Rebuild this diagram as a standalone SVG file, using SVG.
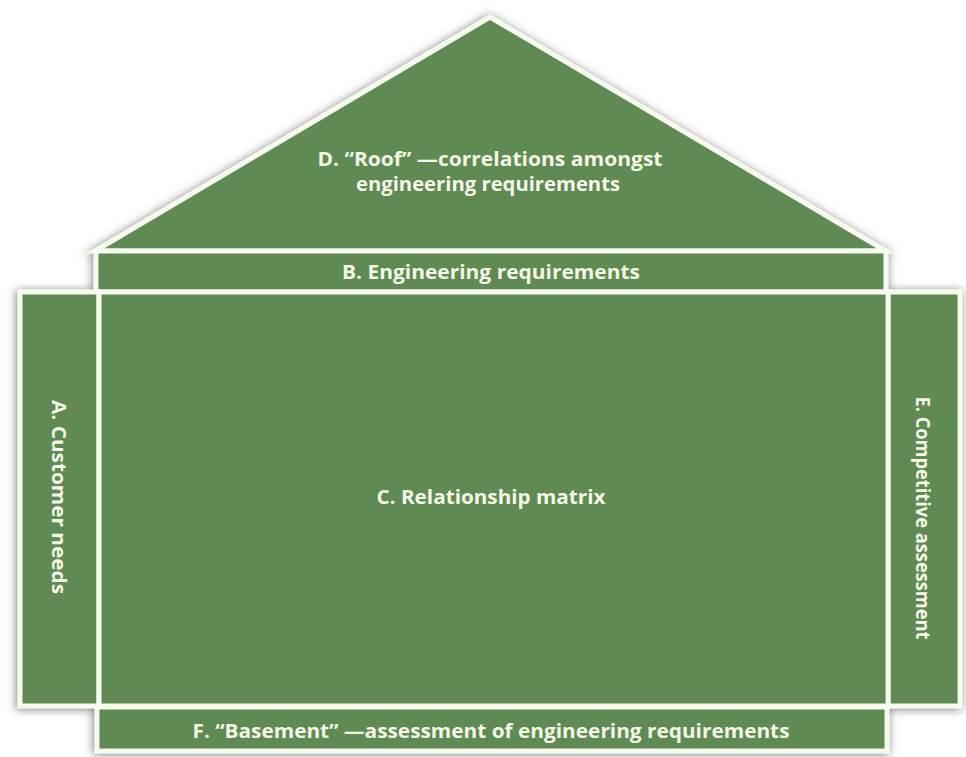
<svg xmlns="http://www.w3.org/2000/svg" width="966" height="757" viewBox="0 0 966 757">
  <defs>
    <filter id="shadow" x="-10%" y="-10%" width="120%" height="120%">
      <feGaussianBlur in="SourceAlpha" stdDeviation="5" result="b"/>
      <feOffset in="b" dx="-1" dy="1" result="o"/>
      <feFlood flood-color="#555" flood-opacity="0.75"/>
      <feComposite in2="o" operator="in" result="s"/>
      <feMerge><feMergeNode in="s"/><feMergeNode in="SourceGraphic"/></feMerge>
    </filter>
  </defs>
  <style>
    .part { fill: #608a53; stroke: #f7faee; stroke-width: 5; stroke-linejoin: miter; }
    .lbl { font-family: "Open Sans", "Noto Sans", "Liberation Sans", sans-serif; font-weight: 700; font-size: 19px; fill: #f3f7e6; text-anchor: middle; }
  </style>
  <rect width="966" height="757" fill="#ffffff"/>
  <g filter="url(#shadow)">
    <g id="roof">
      <polygon class="part" points="95,251 490,17 886,251"/>
    </g>
    <g id="engineering">
      <rect class="part" x="96" y="251" width="790" height="41"/>
    </g>
    <g id="customer">
      <rect class="part" x="20" y="292" width="79" height="414"/>
    </g>
    <g id="competitive">
      <rect class="part" x="888" y="292" width="72" height="414"/>
    </g>
    <g id="matrix">
      <rect class="part" x="99" y="292" width="789" height="414"/>
    </g>
    <g id="basement">
      <rect class="part" x="97" y="707" width="790" height="44"/>
    </g>
  </g>
  <g id="connectors"/>
  <g id="labels">
    <text class="lbl" x="490" y="166" textLength="345" lengthAdjust="spacingAndGlyphs">D. “Roof” —correlations amongst</text>
    <text class="lbl" x="488" y="191" textLength="264" lengthAdjust="spacingAndGlyphs">engineering requirements</text>
    <text class="lbl" x="491" y="279" textLength="298" lengthAdjust="spacingAndGlyphs">B. Engineering requirements</text>
    <text class="lbl" x="491" y="504" textLength="229" lengthAdjust="spacingAndGlyphs">C. Relationship matrix</text>
    <text class="lbl" x="491" y="738" textLength="597" lengthAdjust="spacingAndGlyphs">F. “Basement” —assessment of engineering requirements</text>
    <text class="lbl" transform="translate(52,497) rotate(90)" textLength="194" lengthAdjust="spacingAndGlyphs">A. Customer needs</text>
    <text class="lbl" transform="translate(916,518) rotate(90)" textLength="243" lengthAdjust="spacingAndGlyphs">E. Competitive assessment</text>
  </g>
</svg>
